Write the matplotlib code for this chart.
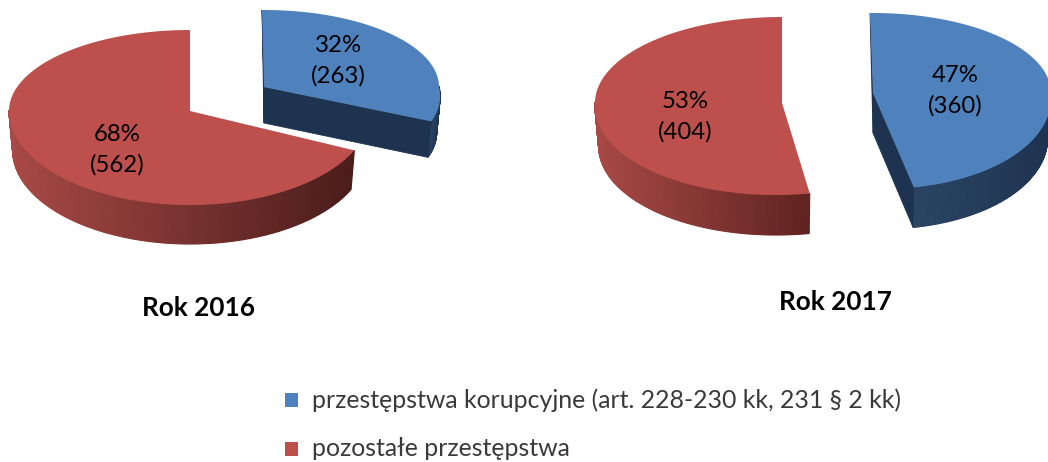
#!/usr/bin/env python
# coding=utf-8

import numpy as np
import matplotlib
matplotlib.use('Agg')
import matplotlib.pyplot as plt
from matplotlib.colors import LinearSegmentedColormap
from matplotlib.patches import Rectangle

series_names = ['przestępstwa korupcyjne (art. 228-230 kk, 231 § 2 kk)', 'pozostałe przestępstwa']
counts_2016 = [263, 562]
counts_2017 = [360, 404]
titles = ['Rok 2016', 'Rok 2017']

BLUE = '#4f81bd'
RED = '#bd504d'
TEXT = '#000000'

plt.rcParams['font.family'] = ['Lato', 'DejaVu Sans']


def point(theta, s, bottom=False):
    # s: apex x/y, rx, back ry, front ry, front skew, depth, inner dx
    c = np.cos(theta)
    ry = s['ry_back'] if c > 0 else s['ry_front']
    dx = s['rx'] * np.sin(theta) + s['skew'] * max(0, -c)
    if bottom:
        return s['x'] + dx * 0.98, s['y'] - ry * c + s['depth']
    return s['x'] + dx, s['y'] - ry * c


def draw_slice(ax, start, end, color, side_from, side_to, s):
    cmap = LinearSegmentedColormap.from_list('side', [side_from, side_to])
    thetas = np.radians(np.linspace(start, end, 240))
    front = [t for t in thetas if np.cos(t) < 0.02]
    xs = [point(t, s)[0] for t in front]
    left, right = min(xs), max(xs)
    for t0, t1 in zip(front[:-1], front[1:]):
        p0, p1 = point(t0, s), point(t1, s)
        q0, q1 = point(t0, s, True), point(t1, s, True)
        frac = ((p0[0] + p1[0]) / 2 - left) / max(right - left, 1)
        col = cmap(frac)
        ax.fill([p0[0], p1[0], q1[0], q0[0]], [p0[1], p1[1], q1[1], q0[1]],
                color=col, lw=0.8, zorder=2)

    top = [point(t, s) for t in thetas]
    # blue slices show their cut faces
    if start == 0:
        tip, tip_low = top[-1], point(thetas[-1], s, True)
        ax.fill([s['x'], tip[0], tip_low[0], s['x']],
                [s['y'], tip[1], tip_low[1], s['y'] + s['depth']],
                color=side_to, lw=0.6, zorder=2)
        ax.fill([s['x'] + s['back_dx'], s['x'], s['x']],
                [s['y'] - s['ry_back'], s['y'], s['y'] + s['depth']],
                color=side_to, lw=0.6, zorder=2)

    xy = [(s['x'], s['y'])] + top
    if start == 0:
        xy[1] = (s['x'] + s['back_dx'], s['y'] - s['ry_back'])
    ax.fill([p[0] for p in xy], [p[1] for p in xy], color=color, lw=0, zorder=3)


def draw_pie(ax, counts, blue, red, blue_label, red_label, red_end):
    total = sum(counts)
    angle = 360.0 * counts[0] / total
    draw_slice(ax, angle, 360, RED, '#a84946', red_end, red)
    draw_slice(ax, 0, angle, BLUE, '#2a4464', '#1e3350', blue)
    for i, pos in enumerate([blue_label, red_label]):
        pct = round(100.0 * counts[i] / total)
        ax.text(pos[0], pos[1], '%d%%\n(%d)' % (pct, counts[i]), ha='center', va='center',
                fontsize=17.3, color=TEXT, linespacing=1.5, zorder=5)


fig = plt.figure(figsize=(10.48, 4.62), dpi=100)
ax = fig.add_axes([0, 0, 1, 1])
ax.set_xlim(0, 1048)
ax.set_ylim(462, 0)
ax.axis('off')

draw_pie(ax, counts_2016,
         dict(x=264, y=87, rx=175, ry_back=77, ry_front=82, skew=20, depth=36, back_dx=-2),
         dict(x=190, y=111, rx=181, ry_back=81, ry_front=94, skew=0, depth=39, back_dx=1),
         (338, 61), (117, 150), '#4a1c1a')
draw_pie(ax, counts_2017,
         dict(x=873, y=93, rx=178, ry_back=80, ry_front=96, skew=9, depth=40, back_dx=-3),
         dict(x=782, y=103, rx=187, ry_back=86, ry_front=92, skew=-6, depth=40, back_dx=1),
         (955, 91), (685, 117), '#5f2320')

ax.text(198, 308, titles[0], ha='center', va='center', fontsize=18.8, fontweight='bold', color=TEXT)
ax.text(835, 302, titles[1], ha='center', va='center', fontsize=18.8, fontweight='bold', color=TEXT)

for name, col, y in zip(series_names, [BLUE, RED], [400, 449]):
    ax.add_patch(Rectangle((285, y - 7), 13, 14, color=col, lw=0))
    ax.text(312, y, name, ha='left', va='center', fontsize=17.9, color='#3a3a3a')

fig.savefig('out.png', dpi=100)
